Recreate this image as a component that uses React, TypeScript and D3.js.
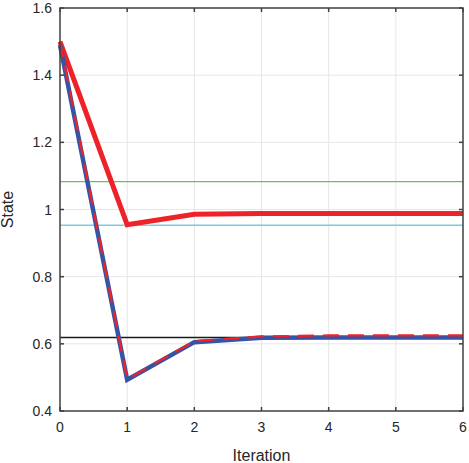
import React from 'react';
import * as d3 from 'd3';

// Iteration index shared by all series
const iterations = [0, 1, 2, 3, 4, 5, 6];

// Series values
const solidRed = [1.5, 0.955, 0.986, 0.988, 0.988, 0.988, 0.988];
const blueLine = [1.49, 0.493, 0.605, 0.618, 0.619, 0.619, 0.619];
const dashedRed = [1.5, 0.495, 0.608, 0.622, 0.625, 0.625, 0.625];

// Reference levels (horizontal lines)
const refLevels = [
  { value: 1.083, color: '#70bf4c' },
  { value: 0.953, color: '#78cde2' },
  { value: 0.619, color: '#1a1a1a' },
];

const xTicks = [0, 1, 2, 3, 4, 5, 6];
const yTicks = [0.4, 0.6, 0.8, 1, 1.2, 1.4, 1.6];

const App: React.FC = () => {
  const width = 469;
  const height = 463;
  const margin = { top: 8, right: 6, bottom: 52, left: 60 };
  const x0 = margin.left;
  const x1 = width - margin.right;
  const y0 = height - margin.bottom;
  const y1 = margin.top;

  const xScale = d3.scaleLinear().domain([0, 6]).range([x0, x1]);
  const yScale = d3.scaleLinear().domain([0.4, 1.6]).range([y0, y1]);

  const line = d3.line<number>()
    .x((_, i) => xScale(iterations[i]))
    .y(d => yScale(d));

  const axisColor = '#404040';
  const font = '"Liberation Sans", Arial, Helvetica, sans-serif';

  return (
    <svg width={width} height={height} style={{ position: 'absolute', left: 0, top: 0 }}>
      <rect x={0} y={0} width={width} height={height} fill="#fff" />
      {/* grid */}
      {xTicks.slice(1, -1).map(t => (
        <line key={'gx' + t} x1={xScale(t)} x2={xScale(t)} y1={y1} y2={y0} stroke="#e6e6e6" strokeWidth={1} />
      ))}
      {yTicks.slice(1, -1).map(t => (
        <line key={'gy' + t} x1={x0} x2={x1} y1={yScale(t)} y2={yScale(t)} stroke="#e6e6e6" strokeWidth={1} />
      ))}
      {/* reference levels */}
      {refLevels.map(r => (
        <line key={'r' + r.value} x1={x0} x2={x1} y1={yScale(r.value)} y2={yScale(r.value)} stroke={r.color} strokeWidth={1.4} />
      ))}
      {/* series */}
      <path d={line(solidRed) ?? ''} fill="none" stroke="#ee2229" strokeWidth={5} strokeLinejoin="miter" />
      <path d={line(blueLine) ?? ''} fill="none" stroke="#3653a4" strokeWidth={4.5} />
      <path d={line(dashedRed) ?? ''} fill="none" stroke="#ee2229" strokeWidth={2.2} strokeDasharray="16 9" />
      {/* box */}
      <rect x={x0} y={y1} width={x1 - x0} height={y0 - y1} fill="none" stroke={axisColor} strokeWidth={1.5} />
      {/* ticks */}
      {xTicks.map(t => (
        <g key={'tx' + t}>
          <line x1={xScale(t)} x2={xScale(t)} y1={y0} y2={y0 - 4} stroke={axisColor} strokeWidth={1.5} />
          <line x1={xScale(t)} x2={xScale(t)} y1={y1} y2={y1 + 4} stroke={axisColor} strokeWidth={1.5} />
          <text x={xScale(t)} y={y0 + 21} textAnchor="middle" fontFamily={font} fontSize={14} fill="#262626">{t}</text>
        </g>
      ))}
      {yTicks.map(t => (
        <g key={'ty' + t}>
          <line x1={x0} x2={x0 + 4} y1={yScale(t)} y2={yScale(t)} stroke={axisColor} strokeWidth={1.5} />
          <line x1={x1} x2={x1 - 4} y1={yScale(t)} y2={yScale(t)} stroke={axisColor} strokeWidth={1.5} />
          <text x={x0 - 8} y={yScale(t) + 5} textAnchor="end" fontFamily={font} fontSize={14} fill="#262626">{d3.format('~g')(t)}</text>
        </g>
      ))}
      <text x={(x0 + x1) / 2} y={461} textAnchor="middle" fontFamily={font} fontSize={16} fill="#262626">Iteration</text>
      <text transform={`translate(13,${(y0 + y1) / 2}) rotate(-90)`} textAnchor="middle" fontFamily={font} fontSize={16} fill="#262626">State</text>
    </svg>
  );
};

export default App;
